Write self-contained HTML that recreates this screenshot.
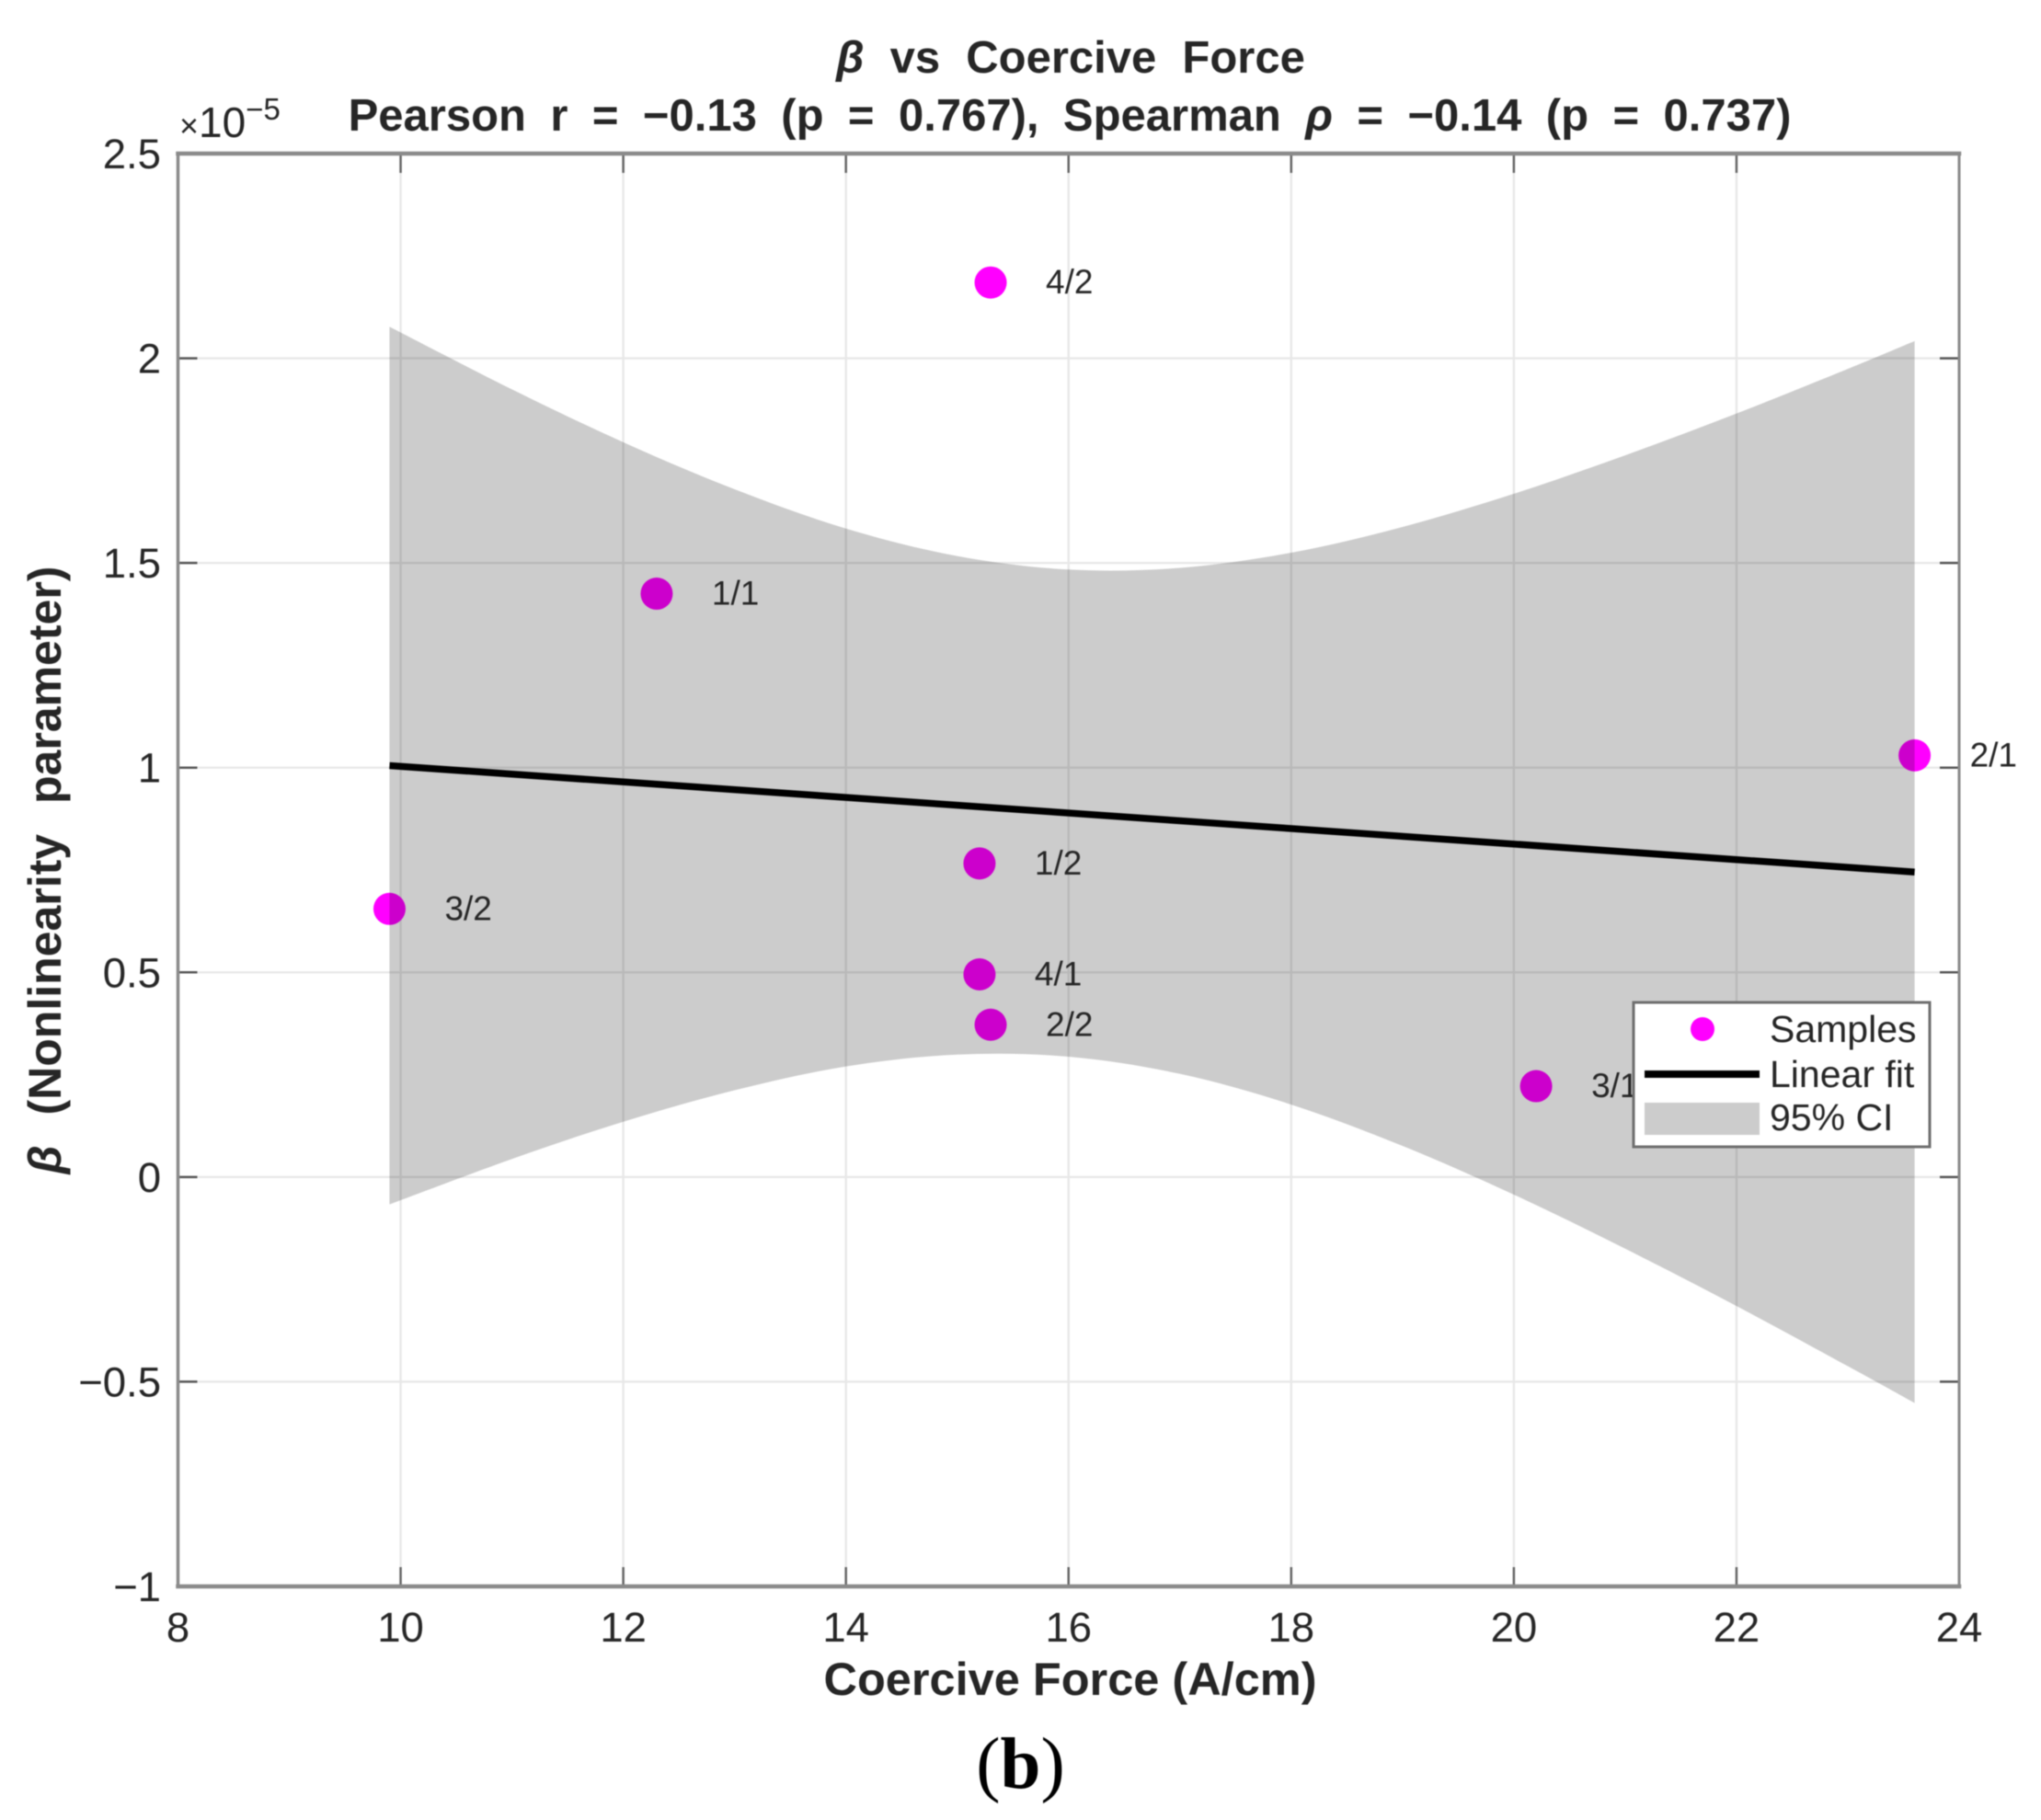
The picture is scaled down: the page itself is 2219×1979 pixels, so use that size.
<!DOCTYPE html>
<html lang="en">
<head>
<meta charset="utf-8">
<title>β vs Coercive Force</title>
<style>
  html, body { margin: 0; padding: 0; background: #fff; }
  svg { display: block; filter: blur(0.5px); }
  text { font-family: "Liberation Sans", "DejaVu Sans", sans-serif; fill: #262626; }
  .title { font-size: 49px; font-weight: bold; text-anchor: middle; }
  .tick { font-size: 45.5px; }
  .pt { font-size: 37px; }
  .leg { font-size: 41px; }
</style>
</head>
<body>
<svg id="chart" xmlns="http://www.w3.org/2000/svg" width="2219" height="1979" viewBox="0 0 2219 1979">
  <rect x="0" y="0" width="2219" height="1979" fill="#ffffff"/>
  <g id="grid"></g>
  <g id="points"></g>
  <path id="ci" fill="#000000" fill-opacity="0.2"></path>
  <path id="fit" fill="none" stroke="#000000" stroke-width="7.5"></path>
  <g id="labels"></g>
  <g id="axes"></g>

  <text class="title" x="1164" y="79" style="word-spacing:14.5px"><tspan font-style="italic">β</tspan> vs Coercive Force</text>
  <text class="title" x="1163" y="142" style="word-spacing:12.8px">Pearson r = −0.13 (p = 0.767), Spearman <tspan font-style="italic">ρ</tspan> = −0.14 (p = 0.737)</text>

  <text x="1163.5" y="1843" font-size="50.5" font-weight="bold" text-anchor="middle">Coercive Force (A/cm)</text>
  <text transform="translate(66,946) rotate(-90)" font-size="50" font-weight="bold" text-anchor="middle" style="word-spacing:19px"><tspan font-style="italic">β</tspan> (Nonlinearity parameter)</text>

  <text x="195" y="149" font-size="46">
    <tspan font-size="36">×</tspan><tspan>10</tspan><tspan font-size="33" dy="-19">−5</tspan>
  </text>

  <g>
    <rect x="1776" y="1090" width="322" height="157" fill="#ffffff" stroke="#6e6e6e" stroke-width="3"/>
    <circle cx="1851" cy="1119" r="13" fill="#ff00ff"/>
    <rect x="1788" y="1164" width="125" height="8" fill="#000000"/>
    <rect x="1788" y="1199" width="125" height="35" fill="#cccccc"/>
    <text class="leg" x="1924" y="1133">Samples</text>
    <text class="leg" x="1924" y="1182">Linear fit</text>
    <text class="leg" x="1924" y="1229">95% CI</text>
  </g>

  <text x="1109.5" y="1944" font-size="79" text-anchor="middle" style="font-family:'Liberation Serif',serif;fill:#000">(<tspan font-weight="bold">b</tspan>)</text>
</svg>

<script>
const xTicks = [8, 10, 12, 14, 16, 18, 20, 22, 24];
const xTickLabels = ['8', '10', '12', '14', '16', '18', '20', '22', '24'];
const yTicks = [-1, -0.5, 0, 0.5, 1, 1.5, 2, 2.5];
const yTickLabels = ['−1', '−0.5', '0', '0.5', '1', '1.5', '2', '2.5'];

const sampleNames = ['4/2', '1/1', '2/1', '1/2', '3/2', '4/1', '2/2', '3/1'];
const sampleX = [15.3, 12.3, 23.6, 15.2, 9.9, 15.2, 15.3, 20.2];
const sampleY = [2.185, 1.425, 1.03, 0.766, 0.655, 0.495, 0.372, 0.222];

const fitX = [9.9, 23.6];
const fitY = [1.005, 0.745];

const ciX = [9.9, 11, 12, 13, 14, 15, 16, 17, 18, 19, 20, 21, 22, 23, 23.6];
const ciUpper = [2.077, 1.924, 1.795, 1.68, 1.584, 1.517, 1.484, 1.488, 1.525, 1.588, 1.669, 1.763, 1.865, 1.974, 2.042];
const ciLower = [-0.067, 0.044, 0.135, 0.212, 0.27, 0.299, 0.294, 0.252, 0.177, 0.076, -0.043, -0.175, -0.315, -0.462, -0.552];

const SVG_NS = 'http://www.w3.org/2000/svg';
const xMin = 8, xMax = 24, yMin = -1, yMax = 2.5;
const plotLeft = 193.5, plotRight = 2130, plotTop = 167, plotBottom = 1725;

function xScale(v) {
  return plotLeft + (v - xMin) / (xMax - xMin) * (plotRight - plotLeft);
}
function yScale(v) {
  return plotTop + (yMax - v) / (yMax - yMin) * (plotBottom - plotTop);
}
function make(tag, attrs, parent) {
  const el = document.createElementNS(SVG_NS, tag);
  for (const k in attrs) el.setAttribute(k, attrs[k]);
  parent.appendChild(el);
  return el;
}
function smooth(xs, ys, start) {
  let d = start ? 'M' + xScale(xs[0]) + ' ' + yScale(ys[0]) : 'L' + xScale(xs[0]) + ' ' + yScale(ys[0]);
  for (let i = 0; i < xs.length - 1; i++) {
    const a = Math.max(i - 1, 0), b = Math.min(i + 2, xs.length - 1);
    const x1 = xScale(xs[i]), y1 = yScale(ys[i]), x2 = xScale(xs[i + 1]), y2 = yScale(ys[i + 1]);
    const c1x = x1 + (x2 - xScale(xs[a])) / 6, c1y = y1 + (y2 - yScale(ys[a])) / 6;
    const c2x = x2 - (xScale(xs[b]) - x1) / 6, c2y = y2 - (yScale(ys[b]) - y1) / 6;
    d += ' C' + c1x + ' ' + c1y + ' ' + c2x + ' ' + c2y + ' ' + x2 + ' ' + y2;
  }
  return d;
}

const grid = document.getElementById('grid');
const axes = document.getElementById('axes');
const pointsG = document.getElementById('points');
const labelsG = document.getElementById('labels');

xTicks.forEach(function (t, i) {
  const x = xScale(t);
  if (t > xMin && t < xMax) {
    const g = make('line', { x1: x, x2: x, y1: plotTop, y2: plotBottom, stroke: '#e8e8e8', 'stroke-width': 2.4 }, grid);
    
    
    const t1 = make('line', { x1: x, x2: x, y1: plotTop, y2: plotTop + 21, stroke: '#666666', 'stroke-width': 2.5 }, axes);
    
    
    const t2 = make('line', { x1: x, x2: x, y1: plotBottom, y2: plotBottom - 21, stroke: '#666666', 'stroke-width': 2.5 }, axes);
    
    
  }
  const lab = make('text', { x: x, y: 1785, 'text-anchor': 'middle', class: 'tick' }, axes);
  
  
  lab.textContent = xTickLabels[i];
});

yTicks.forEach(function (t, i) {
  const y = yScale(t);
  if (t > yMin && t < yMax) {
    const g = make('line', { x1: plotLeft, x2: plotRight, y1: y, y2: y, stroke: '#e8e8e8', 'stroke-width': 2.4 }, grid);
    
    
    const t1 = make('line', { x1: plotLeft, x2: plotLeft + 21, y1: y, y2: y, stroke: '#555555', 'stroke-width': 2.5 }, axes);
    
    
    const t2 = make('line', { x1: plotRight, x2: plotRight - 21, y1: y, y2: y, stroke: '#555555', 'stroke-width': 2.5 }, axes);
    
    
  }
  const lab = make('text', { x: 175, y: y + 16, 'text-anchor': 'end', class: 'tick' }, axes);
  
  
  lab.textContent = yTickLabels[i];
});

[[plotLeft, plotTop, plotRight, plotTop, 4.5], [plotLeft, plotBottom, plotRight, plotBottom, 4.5],
 [plotLeft, plotTop, plotLeft, plotBottom, 3.5], [plotRight, plotTop, plotRight, plotBottom, 3]].forEach(function (s) {
  const l = make('line', { x1: s[0], y1: s[1], x2: s[2], y2: s[3], stroke: '#8a8a8a', 'stroke-width': s[4], 'stroke-linecap': 'square' }, axes);
  
  
});

sampleNames.forEach(function (name, i) {
  const cx = xScale(sampleX[i]), cy = yScale(sampleY[i]);
  const c = make('circle', { cx: cx, cy: cy, r: 17.5, fill: '#ff00ff' }, pointsG);
  
  
  const lab = make('text', { x: cx + 60, y: cy + 12, class: 'pt' }, labelsG);
  
  
  lab.textContent = name;
});

document.getElementById('ci').setAttribute('d',
  smooth(ciX, ciUpper, true) + ' ' + smooth(ciX.slice().reverse(), ciLower.slice().reverse(), false) + ' Z');
document.getElementById('fit').setAttribute('d',
  'M' + xScale(fitX[0]) + ' ' + yScale(fitY[0]) + ' L' + xScale(fitX[1]) + ' ' + yScale(fitY[1]));
</script>
</body>
</html>
